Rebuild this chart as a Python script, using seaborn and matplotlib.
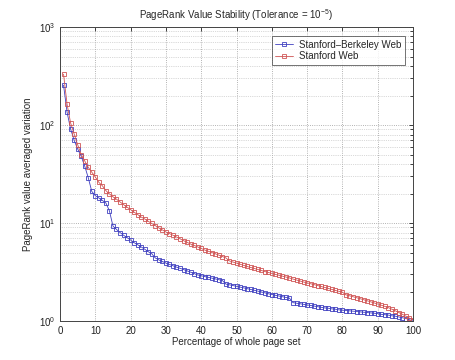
import matplotlib
matplotlib.use("Agg")
import matplotlib.pyplot as plt
import seaborn as sns
import pandas as pd
import numpy as np
from matplotlib.ticker import LogLocator, NullFormatter, MultipleLocator
from matplotlib.lines import Line2D

pct = list(range(1, 101))

stanford_berkeley = [
    255, 135, 91, 70, 57, 48, 38, 29, 21, 19,
    18, 17, 16, 13.3, 9.3, 8.6, 8.0, 7.5, 7.1, 6.7,
    6.3, 6.0, 5.7, 5.4, 5.1, 4.85, 4.4, 4.2, 4.05, 3.9,
    3.78, 3.66, 3.55, 3.45, 3.35, 3.25, 3.15, 3.05, 2.95, 2.9,
    2.84, 2.79, 2.74, 2.69, 2.64, 2.59, 2.38, 2.34, 2.30, 2.26,
    2.22, 2.18, 2.14, 2.10, 2.06, 2.02, 1.98, 1.94, 1.90, 1.86,
    1.83, 1.80, 1.77, 1.74, 1.71, 1.54, 1.52, 1.50, 1.48, 1.46,
    1.44, 1.42, 1.40, 1.38, 1.36, 1.35, 1.33, 1.32, 1.30, 1.29,
    1.28, 1.27, 1.26, 1.25, 1.24, 1.23, 1.22, 1.21, 1.20, 1.19,
    1.17, 1.16, 1.15, 1.13, 1.12, 1.10, 1.08, 1.06, 1.03, 1.0,
]

stanford = [
    330, 163, 105, 81, 63, 50, 43, 37, 33, 29.5,
    26, 24, 21.4, 19.8, 18.5, 17.5, 16.4, 15.4, 14.5, 13.7,
    12.9, 12.2, 11.5, 11.0, 10.4, 9.9, 9.4, 8.9, 8.5, 8.1,
    7.8, 7.5, 7.2, 6.9, 6.6, 6.35, 6.1, 5.9, 5.7, 5.5,
    5.3, 5.15, 5.0, 4.85, 4.7, 4.55, 4.4, 4.1, 4.0, 3.9,
    3.8, 3.7, 3.6, 3.52, 3.44, 3.36, 3.28, 3.2, 3.13, 3.06,
    2.99, 2.93, 2.87, 2.81, 2.75, 2.68, 2.62, 2.56, 2.50, 2.45,
    2.40, 2.35, 2.30, 2.25, 2.20, 2.15, 2.10, 2.05, 2.01, 1.97,
    1.85, 1.81, 1.77, 1.73, 1.69, 1.65, 1.61, 1.57, 1.53, 1.49,
    1.45, 1.41, 1.37, 1.32, 1.27, 1.22, 1.17, 1.12, 1.07, 1.03,
]

series_names = ["Stanford\u2013Berkeley Web", "Stanford Web"]

df = pd.DataFrame({
    "pct": pct * 2,
    "value": stanford_berkeley + stanford,
    "series": [series_names[0]] * len(pct) + [series_names[1]] * len(pct),
})

sns.set_style("white")
plt.rcParams["font.family"] = ["Liberation Sans", "DejaVu Sans"]
plt.rcParams["mathtext.fontset"] = "custom"
plt.rcParams["mathtext.rm"] = "Liberation Sans"

fig = plt.figure(figsize=(4.56, 3.6), dpi=100)
ax = fig.add_axes([0.1316, 0.1083, 0.7741, 0.8167])

palette = {series_names[0]: "#4040c0", series_names[1]: "#d05555"}
sns.lineplot(data=df, x="pct", y="value", hue="series", palette=palette,
             marker="s", markersize=3.5, linewidth=0.6, ax=ax, legend=False)
for ln in ax.lines:
    ln.set_markerfacecolor("none")
    ln.set_markeredgecolor(ln.get_color())
    ln.set_markeredgewidth(0.6)

ax.set_yscale("log")
ax.set_xlim(0, 100)
ax.set_ylim(1, 1000)
ax.xaxis.set_major_locator(MultipleLocator(10))
ax.yaxis.set_major_locator(LogLocator(base=10))
ax.yaxis.set_minor_locator(LogLocator(base=10, subs=np.arange(2, 10)))
ax.yaxis.set_minor_formatter(NullFormatter())

ax.grid(True, which="major", linestyle=":", color="#9a9a9a", linewidth=0.6)
ax.grid(True, which="minor", axis="y", linestyle=":", color="#b5b5b5", linewidth=0.5)

ax.tick_params(axis="both", which="both", direction="in", top=True, right=True,
               labelsize=7, length=3, width=0.6, colors="#222222")
ax.tick_params(axis="y", which="minor", length=2)
for s in ax.spines.values():
    s.set_color("#444444")
    s.set_linewidth(0.7)

ax.set_title("PageRank Value Stability (Tolerance = 10$^{-5}$)", fontsize=7, pad=6)
ax.set_xlabel("Percentage of whole page set", fontsize=7, labelpad=1)
ax.set_ylabel("PageRank value averaged variation", fontsize=7, labelpad=4)

handles = [Line2D([], [], color=palette[n], marker="s", markersize=3.5,
                  markerfacecolor="none", markeredgecolor=palette[n],
                  markeredgewidth=0.6, linewidth=0.6)
           for n in series_names]
leg = ax.legend(handles, series_names, loc="upper right", fontsize=7,
                frameon=True, fancybox=False, edgecolor="#333333",
                handlelength=1.8, borderpad=0.35, labelspacing=0.15,
                handletextpad=0.6, bbox_to_anchor=(0.99, 0.985))
leg.get_frame().set_linewidth(0.6)

fig.savefig("out.png", dpi=100, facecolor="white")
